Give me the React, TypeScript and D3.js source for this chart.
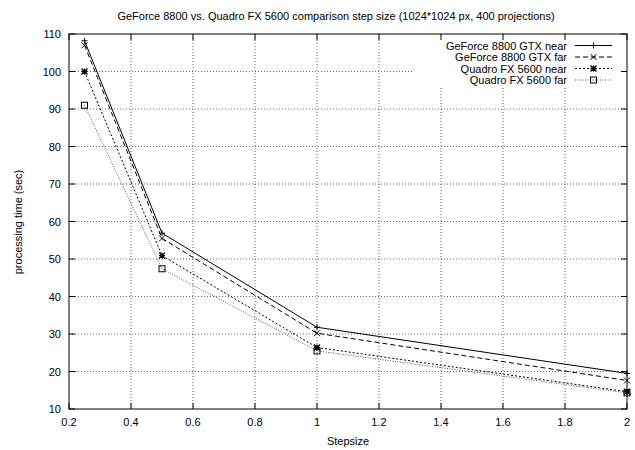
import React from "react";
import * as d3 from "d3";

const steps = [0.25, 0.5, 1, 2];
const gtxNear = [108.2, 56.9, 31.8, 19.5];
const gtxFar = [107, 55.5, 30.2, 17.6];
const quadroNear = [100, 50.9, 26.4, 14.6];
const quadroFar = [91, 47.4, 25.5, 14.3];
const seriesNames = ["GeForce 8800 GTX near", "GeForce 8800 GTX far", "Quadro FX 5600 near", "Quadro FX 5600 far"];
const xTicks = [0.2, 0.4, 0.6, 0.8, 1, 1.2, 1.4, 1.6, 1.8, 2];
const yTicks = [10, 20, 30, 40, 50, 60, 70, 80, 90, 100, 110];

const W = 635, H = 450;
const L = 69, R = 627, T = 34, B = 409;
const FONT = "'Liberation Sans', Arial, sans-serif";

const styles = [
  { dash: "none", color: "#000", marker: "plus" },
  { dash: "5,3", color: "#000", marker: "x" },
  { dash: "2,2", color: "#000", marker: "star" },
  { dash: "1,1.5", color: "#555", marker: "square" },
];

function Marker({ type, x, y }: { type: string; x: number; y: number }) {
  const s = 3;
  const p = { stroke: "#000", strokeWidth: 1, fill: "none" };
  if (type === "plus")
    return <path d={`M${x - s},${y}H${x + s}M${x},${y - s}V${y + s}`} {...p} />;
  if (type === "x")
    return <path d={`M${x - s},${y - s}L${x + s},${y + s}M${x - s},${y + s}L${x + s},${y - s}`} {...p} />;
  if (type === "star")
    return <path d={`M${x - s},${y}H${x + s}M${x},${y - s}V${y + s}M${x - s},${y - s}L${x + s},${y + s}M${x - s},${y + s}L${x + s},${y - s}`} {...p} strokeWidth={1.3} />;
  return <rect x={x - s} y={y - s} width={2 * s} height={2 * s} {...p} />;
}

export default function App() {
  const x = d3.scaleLinear().domain([0.2, 2]).range([L, R]);
  const y = d3.scaleLinear().domain([10, 110]).range([B, T]);
  const data = [gtxNear, gtxFar, quadroNear, quadroFar];
  const line = d3.line<[number, number]>().x((d) => x(d[0])).y((d) => y(d[1]));

  const legX0 = 412, legY0 = 36, legY1 = 88;
  const legRows = [45.5, 57, 68.5, 80];
  const textRight = 567, sampleL = 575, sampleR = 612;

  return (
    <svg width={W} height={H} style={{ position: "absolute", left: 0, top: 0, background: "#fff" }} fontFamily={FONT}>
      <rect width={W} height={H} fill="#fff" />
      {xTicks.slice(1, -1).map((t) => (
        <line key={"gx" + t} x1={x(t)} x2={x(t)} y1={T} y2={B} stroke="#000" strokeWidth={0.6} strokeDasharray="1,2" />
      ))}
      {yTicks.slice(1, -1).map((t) => (
        <line key={"gy" + t} x1={L} x2={R} y1={y(t)} y2={y(t)} stroke="#000" strokeWidth={0.6} strokeDasharray="1,2" />
      ))}
      <rect x={legX0} y={legY0} width={R - 1 - legX0} height={legY1 - legY0} fill="#fff" />
      {xTicks.map((t) => (
        <g key={"tx" + t}>
          <line x1={x(t)} x2={x(t)} y1={B} y2={B - 6} stroke="#000" />
          <line x1={x(t)} x2={x(t)} y1={T} y2={T + 6} stroke="#000" />
          <text x={x(t)} y={426} fontSize={11} textAnchor="middle" fill="#000">{t}</text>
        </g>
      ))}
      {yTicks.map((t) => (
        <g key={"ty" + t}>
          <line x1={L} x2={L + 6} y1={y(t)} y2={y(t)} stroke="#000" />
          <line x1={R} x2={R - 6} y1={y(t)} y2={y(t)} stroke="#000" />
          <text x={61} y={y(t) + 4} fontSize={11} textAnchor="end" fill="#000">{t}</text>
        </g>
      ))}
      {data.map((vals, i) => {
        const pts = steps.map((s, j) => [s, vals[j]] as [number, number]);
        return (
          <g key={"s" + i}>
            <path d={line(pts) || ""} fill="none" stroke={styles[i].color} strokeWidth={1} strokeDasharray={styles[i].dash} />
            {pts.map((p, j) => (
              <Marker key={j} type={styles[i].marker} x={x(p[0])} y={y(p[1])} />
            ))}
          </g>
        );
      })}
      {seriesNames.map((n, i) => (
        <g key={"l" + i}>
          <text x={textRight} y={legRows[i] + 4} fontSize={11} textAnchor="end" fill="#000">{n}</text>
          <line x1={sampleL} x2={sampleR} y1={legRows[i]} y2={legRows[i]} stroke={styles[i].color} strokeDasharray={styles[i].dash} />
          <Marker type={styles[i].marker} x={(sampleL + sampleR) / 2} y={legRows[i]} />
        </g>
      ))}
      <rect x={L} y={T} width={R - L} height={B - T} fill="none" stroke="#000" strokeWidth={1} />
      <text x={336} y={20} fontSize={11} textAnchor="middle" fill="#000">
        GeForce 8800 vs. Quadro FX 5600 comparison step size (1024*1024 px, 400 projections)
      </text>
      <text x={348} y={445} fontSize={11} textAnchor="middle" fill="#000">Stepsize</text>
      <text transform={`translate(22,222) rotate(-90)`} fontSize={11} textAnchor="middle" fill="#000">processing time (sec)</text>
    </svg>
  );
}
